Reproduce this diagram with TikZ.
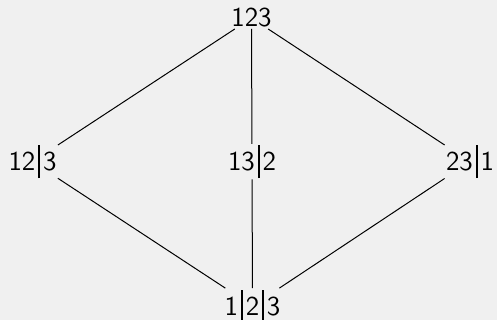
\documentclass[tikz,border=0pt]{standalone}
\newcommand{\vb}{\makebox[0.28em]{\rule[-0.27em]{0.07em}{1.2em}}}
\begin{document}
\begin{tikzpicture}[x=0.5pt,y=-0.5pt,
  lab/.style={anchor=base,inner sep=0.5pt,font=\fontsize{13.7}{16}\selectfont\sffamily},
  edge/.style={draw=black,line width=0.5pt}]
\fill[gray!12] (0,0) rectangle (497,320);
\useasboundingbox (0,0) rectangle (497,320);
\node[lab] (top) at (251.5,27) {123};
\node[lab] (a) at (32.5,170.7) {12\vb3};
\node[lab] (b) at (252,170.7) {13\vb2};
\node[lab] (c) at (470,170.7) {23\vb1};
\node[lab] (bot) at (252.5,315) {1\vb2\vb3};
\draw[edge] (top) -- (a);
\draw[edge] (top) -- (b);
\draw[edge] (top) -- (c);
\draw[edge] (a) -- (bot);
\draw[edge] (b) -- (bot);
\draw[edge] (c) -- (bot);
\end{tikzpicture}
\end{document}
